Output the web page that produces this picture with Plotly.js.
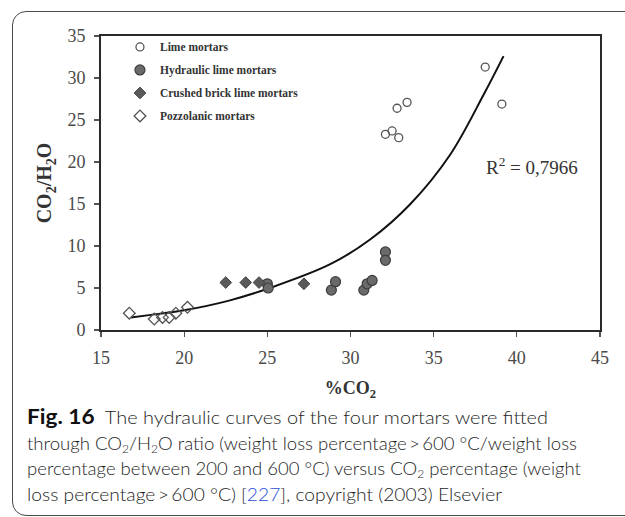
<!DOCTYPE html>
<html>
<head>
<meta charset="utf-8">
<script src="https://cdn.plot.ly/plotly-3.0.1.min.js"></script>
<style>
  html, body { margin:0; padding:0; background:#fff; overflow:hidden; }
  #wrap { position:relative; width:625px; height:517px; overflow:hidden; }
  #chart { position:absolute; left:0; top:0; width:625px; height:517px; }
  #frame { position:absolute; left:12px; top:11px; width:660px; height:505px;
           border:1.5px solid #4a4a4a; border-radius:14px; pointer-events:none; box-sizing:border-box; }
  #caption { position:absolute; left:27px; top:403px; font-family:Lato, "Open Sans", sans-serif;
             font-size:18.5px; line-height:25.7px; color:#1e1e1e; white-space:nowrap; font-weight:300; }
  #caption .ln { display:inline-block; transform-origin:0 50%; }
  #caption b { font-weight:700; color:#111; font-size:21px; }
  #caption sub { font-size:12px; line-height:0; vertical-align:-3px; }
  #caption .ref { color:#2b4fd6; }
</style>
</head>
<body>
<div id="wrap">
  <div id="chart"></div>
  <div id="frame"></div>
  <div id="caption">
    <span class="ln" data-w="521"><b>Fig. 16</b>&nbsp; The hydraulic curves of the four mortars were fitted</span><br>
    <span class="ln" data-w="550">through CO<sub>2</sub>/H<sub>2</sub>O ratio (weight loss percentage&#8201;&gt;&#8201;600 °C/weight loss</span><br>
    <span class="ln" data-w="554">percentage between 200 and 600 °C) versus CO<sub>2</sub> percentage (weight</span><br>
    <span class="ln" data-w="475">loss percentage&#8201;&gt;&#8201;600 °C) [<span class="ref">227</span>], copyright (2003) Elsevier</span>
  </div>
</div>
<script>
// Data
const limeX = [32.1, 32.5, 32.9, 32.8, 33.4, 38.1, 39.1];
const limeY = [23.3, 23.7, 22.9, 26.4, 27.1, 31.3, 26.9];

const hydX = [25.0, 25.05, 28.85, 29.1, 30.8, 31.0, 31.3, 32.1, 32.1];
const hydY = [5.5, 5.0, 4.75, 5.75, 4.75, 5.5, 5.9, 9.3, 8.3];

const brickX = [22.5, 23.7, 24.5, 27.2];
const brickY = [5.65, 5.65, 5.65, 5.5];

const pozzX = [16.7, 18.2, 18.7, 19.1, 19.5, 20.2];
const pozzY = [2.0, 1.3, 1.5, 1.5, 2.0, 2.7];

// Fitted trend curve
const fitX = [16.8, 18, 20, 22.7, 25.15, 28.75, 31.2, 33.6, 36, 38, 39.2];
const fitY = [1.5, 1.8, 2.35, 3.5, 5.0, 7.8, 10.8, 15.0, 20.9, 28.0, 32.6];

const xTicks = [15, 20, 25, 30, 35, 40, 45];
const yTicks = [0, 5, 10, 15, 20, 25, 30, 35];

const serif = "Liberation Serif, Times New Roman, serif";
const markLine = "#555";

const traces = [
  { x: fitX, y: fitY, mode: "lines", line: {color: "#111", width: 2, shape: "spline"},
    showlegend: false, hoverinfo: "skip" },
  { x: limeX, y: limeY, mode: "markers", name: "Lime mortars", legendgroup: "a",
    marker: {symbol: "circle-open", size: 8, color: markLine, line: {width: 1.3, color: markLine}} },
  { x: hydX, y: hydY, mode: "markers", name: "Hydraulic lime mortars", legendgroup: "b",
    marker: {symbol: "circle", size: 10, color: "#6a6a6a", line: {width: 1.2, color: "#3d3d3d"}} },
  { x: brickX, y: brickY, mode: "markers", name: "Crushed brick lime mortars", legendgroup: "c",
    marker: {symbol: "diamond", size: 9, color: "#5a5a5a", line: {width: 1, color: "#444"}} },
  { x: pozzX, y: pozzY, mode: "markers", name: "Pozzolanic mortars", legendgroup: "d",
    marker: {symbol: "diamond-open", size: 9, color: markLine, line: {width: 1.3, color: markLine}} }
];

const axisCommon = {
  showline: true, mirror: true, linecolor: "#2a2a2a", linewidth: 1.8,
  ticks: "outside", ticklen: 5, tickcolor: "#555", tickwidth: 1.2,
  showgrid: false, zeroline: false,
  tickfont: {family: serif, size: 18, color: "#4a4a4a"}
};

const layout = {
  width: 625, height: 517,
  margin: {l: 101, r: 25, t: 36, b: 187, pad: 0},
  paper_bgcolor: "rgba(0,0,0,0)", plot_bgcolor: "#fff",
  showlegend: true,
  legend: {x: 0.038, y: 1.012, xanchor: "left", yanchor: "top", bgcolor: "rgba(0,0,0,0)",
           tracegroupgap: 4, font: {family: serif, size: 11.5, color: "#333", weight: "bold"},
           itemsizing: "trace"},
  xaxis: Object.assign({}, axisCommon, {
    range: [15, 45], tickvals: xTicks, ticktext: xTicks.map(String), ticklabelstandoff: 6,
    title: {text: "<b>%CO<sub>2</sub></b>", standoff: 14, font: {family: serif, size: 18, color: "#333"}}
  }),
  yaxis: Object.assign({}, axisCommon, {
    range: [0, 35], tickvals: yTicks, ticktext: yTicks.map(String), ticklabelstandoff: 5,
    title: {text: "<b>CO<sub>2</sub>/H<sub>2</sub>O</b>", standoff: 10, font: {family: serif, size: 20, color: "#333"}}
  }),
  annotations: [
    { x: 38.0, y: 19.5, xref: "x", yref: "y", xanchor: "left", showarrow: false,
      text: "R<sup>2</sup> = 0,7966", font: {family: serif, size: 19, color: "#333"} }
  ]
};

Plotly.newPlot("chart", traces, layout, {displayModeBar: false, staticPlot: true});

// fit each caption line to the width measured on the reference
document.querySelectorAll("#caption .ln").forEach(function (el) {
  const w = el.getBoundingClientRect().width;
  const target = parseFloat(el.getAttribute("data-w"));
  if (w > 0) el.style.transform = "scaleX(" + (target / w).toFixed(4) + ")";
});
</script>
</body>
</html>
